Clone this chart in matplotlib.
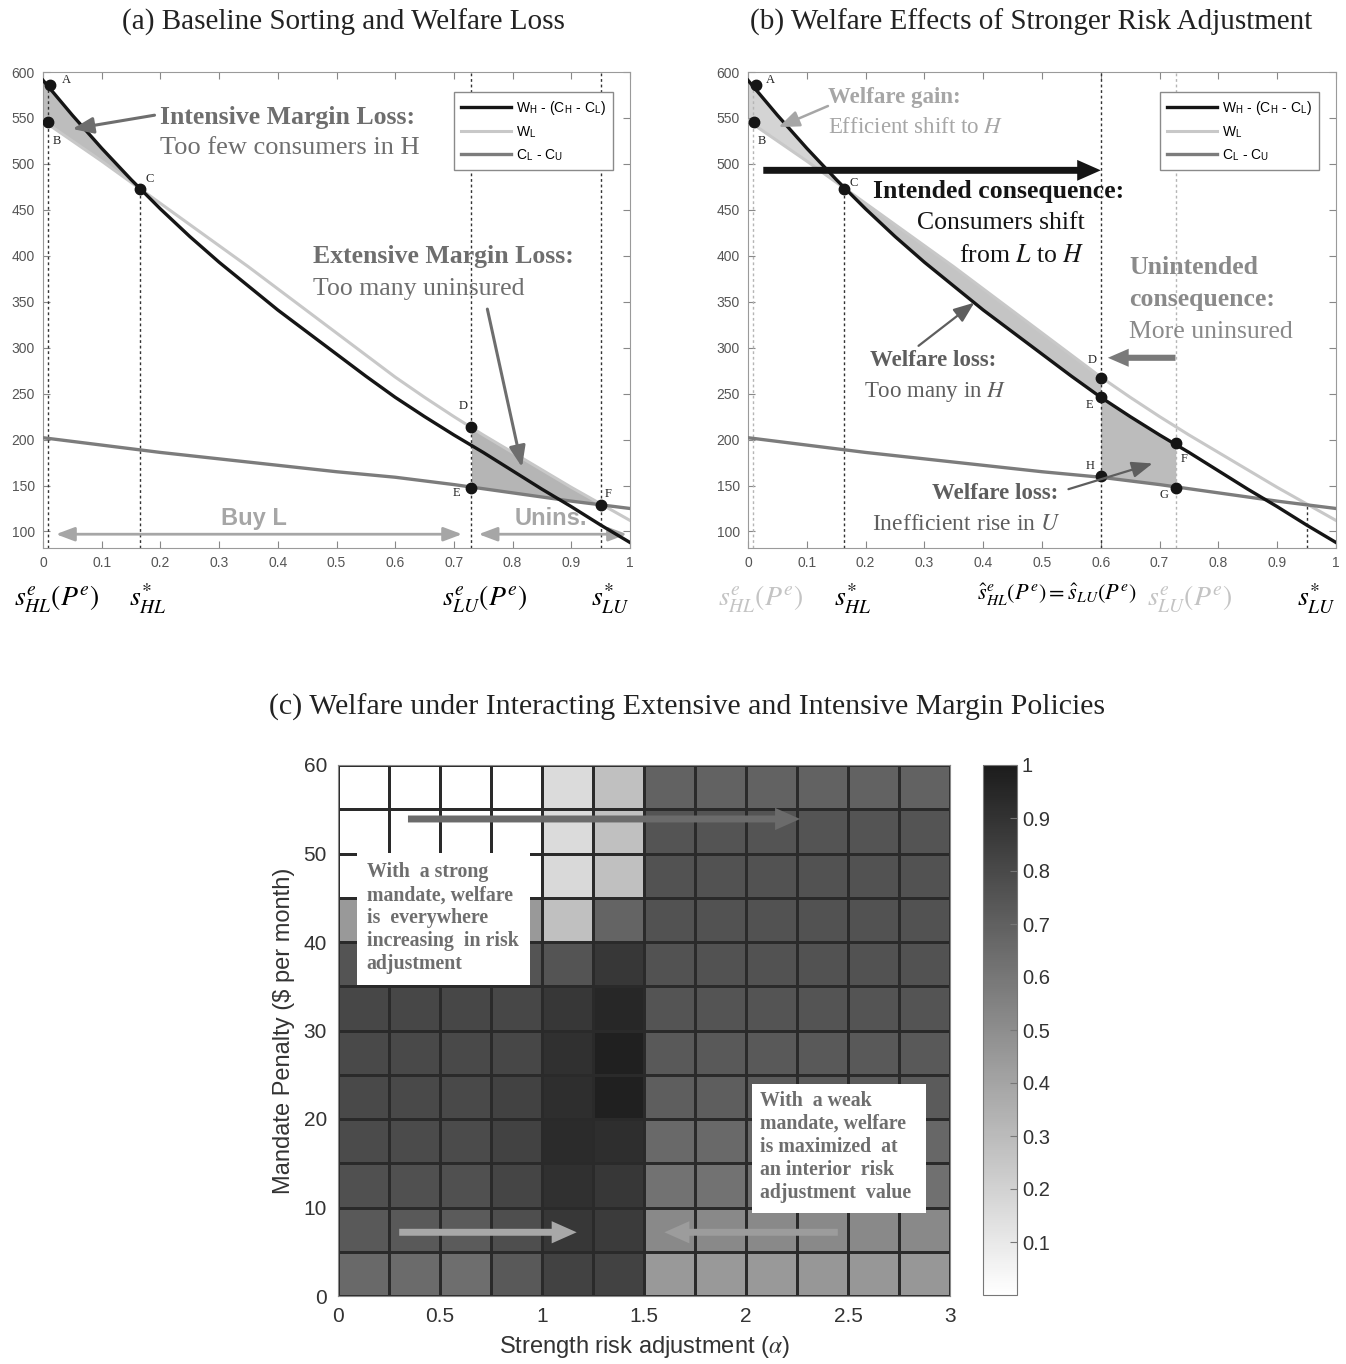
import numpy as np
import matplotlib.pyplot as plt
from matplotlib.colors import LinearSegmentedColormap
from matplotlib.patches import Rectangle

plt.rcParams['font.family'] = 'Liberation Sans'
plt.rcParams['mathtext.fontset'] = 'stix'

SERIF = 'Liberation Serif'

# ---- panels (a) and (b): curves ----
s = [0.00, 0.05, 0.10, 0.15, 0.20, 0.25, 0.30, 0.35, 0.40, 0.45, 0.50,
     0.55, 0.60, 0.65, 0.70, 0.75, 0.80, 0.85, 0.90, 0.95, 1.00]
wh_net = [591, 553, 517, 483, 451, 421, 393, 367, 341, 317, 293,
          269, 246, 225, 205, 186, 166, 146, 127, 107, 88]          # W_H - (C_H - C_L)
w_l = [547, 525, 503, 480, 457, 434, 411, 388, 364, 340, 316,
       292, 268, 246, 225, 205, 186, 167, 148, 130, 112]            # W_L
c_lu = [202, 198, 194, 190, 186, 182.5, 179, 175.5, 172, 168.5, 165,
        162, 159, 155, 151, 146.5, 142, 137.5, 133, 129, 125]       # C_L - C_U

pts_a = {'A': (0.012, 586), 'B': (0.008, 546), 'C': (0.165, 473),
         'D': (0.729, 214), 'E': (0.729, 147), 'F': (0.951, 129)}
pts_b = {'A': (0.014, 586), 'B': (0.010, 546), 'C': (0.163, 473),
         'D': (0.600, 267), 'E': (0.600, 246), 'H': (0.600, 160),
         'F': (0.728, 196), 'G': (0.728, 147)}
lbl_off_a = {'A': (16, 5), 'B': (9, -19), 'C': (10, 10), 'D': (-8, 21), 'E': (-14, -5), 'F': (7, 11)}
lbl_off_b = {'A': (14, 5), 'B': (8, -19), 'C': (10, 6), 'D': (-9, 18), 'E': (-11, -8),
             'H': (-11, 10), 'F': (8, -16), 'G': (-12, -7)}

# ---- panel (c): welfare grid (rows: penalty 0-5 ... 55-60, cols: alpha 0-0.25 ... 2.75-3) ----
alpha_edges = [0, 0.25, 0.5, 0.75, 1.0, 1.25, 1.5, 1.75, 2.0, 2.25, 2.5, 2.75, 3.0]
penalty_edges = [0, 5, 10, 15, 20, 25, 30, 35, 40, 45, 50, 55, 60]
welfare = [
    [0.66, 0.65, 0.64, 0.73, 0.83, 0.83, 0.45, 0.45, 0.45, 0.46, 0.46, 0.46],
    [0.73, 0.73, 0.72, 0.78, 0.88, 0.86, 0.52, 0.52, 0.52, 0.52, 0.52, 0.52],
    [0.77, 0.77, 0.77, 0.82, 0.91, 0.88, 0.62, 0.62, 0.63, 0.63, 0.63, 0.63],
    [0.79, 0.79, 0.79, 0.83, 0.93, 0.92, 0.66, 0.66, 0.67, 0.67, 0.67, 0.67],
    [0.80, 0.80, 0.80, 0.83, 0.92, 0.98, 0.71, 0.71, 0.72, 0.72, 0.72, 0.72],
    [0.80, 0.80, 0.80, 0.81, 0.91, 0.98, 0.73, 0.73, 0.73, 0.73, 0.73, 0.73],
    [0.81, 0.81, 0.81, 0.81, 0.88, 0.95, 0.75, 0.75, 0.75, 0.75, 0.75, 0.75],
    [0.75, 0.75, 0.75, 0.75, 0.75, 0.88, 0.76, 0.76, 0.76, 0.76, 0.76, 0.76],
    [0.45, 0.45, 0.45, 0.45, 0.28, 0.68, 0.76, 0.76, 0.76, 0.76, 0.76, 0.76],
    [0.00, 0.00, 0.00, 0.00, 0.17, 0.28, 0.76, 0.76, 0.76, 0.76, 0.76, 0.76],
    [0.00, 0.00, 0.00, 0.00, 0.16, 0.28, 0.75, 0.75, 0.75, 0.75, 0.75, 0.75],
    [0.00, 0.00, 0.00, 0.00, 0.16, 0.28, 0.69, 0.69, 0.69, 0.69, 0.69, 0.69],
]

BLACK = '#151515'
LIGHT = '#c8c8c8'
DARK = '#7c7c7c'

fig = plt.figure(figsize=(13.46, 13.64), dpi=100)
W, H = 1346, 1364
ax_a = fig.add_axes([43 / W, (H - 548) / H, 587 / W, 476 / H])
ax_b = fig.add_axes([748 / W, (H - 548) / H, 588 / W, 476 / H])
ax_c = fig.add_axes([338 / W, 68 / H, 612 / W, 531 / H])
cax = fig.add_axes([983 / W, 69 / H, 34 / W, 530 / H])

xf = np.linspace(0, 1, 801)
whf = np.interp(xf, s, wh_net)
wlf = np.interp(xf, s, w_l)
clf = np.interp(xf, s, c_lu)


def base_axes(ax):
    ax.set_xlim(0, 1)
    ax.set_ylim(82, 600)
    ax.set_xticks([0, 0.1, 0.2, 0.3, 0.4, 0.5, 0.6, 0.7, 0.8, 0.9, 1])
    ax.set_xticklabels(['0', '0.1', '0.2', '0.3', '0.4', '0.5', '0.6', '0.7', '0.8', '0.9', '1'])
    ax.set_yticks([100, 150, 200, 250, 300, 350, 400, 450, 500, 550, 600])
    ax.tick_params(direction='in', top=True, right=True, length=5, labelsize=10,
                   colors='#888888', labelcolor='#555555', pad=6)
    for sp in ax.spines.values():
        sp.set_color('#9a9a9a')
    l1, = ax.plot(s, wh_net, color=BLACK, lw=2.4, zorder=4)
    l2, = ax.plot(s, w_l, color=LIGHT, lw=2.2, zorder=3)
    l3, = ax.plot(s, c_lu, color=DARK, lw=2.4, zorder=3)
    ax.legend([l1, l2, l3],
              [r'W$_\mathregular{H}$ - (C$_\mathregular{H}$ - C$_\mathregular{L}$)',
               r'W$_\mathregular{L}$', r'C$_\mathregular{L}$ - C$_\mathregular{U}$'],
              loc='upper right', bbox_to_anchor=(0.983, 0.972), fontsize=10,
              handlelength=3.6, fancybox=False, edgecolor='#8a8a8a', framealpha=1,
              borderpad=0.5, labelspacing=0.5, handletextpad=0.4)


def dots(ax, pts, offs):
    for k, (x, y) in pts.items():
        ax.plot(x, y, 'o', color=BLACK, ms=7.5, zorder=6)
        ax.annotate(k, (x, y), xytext=offs[k], textcoords='offset pixels',
                    ha='center', va='center', fontsize=9, family=SERIF, color='#222222')


def vline(ax, x, ytop, color):
    ax.plot([x, x], [82, ytop], color=color, lw=1.0, ls=(0, (2, 2)), zorder=2)


def arrow(ax, tail, head, color, lw=2.2, hl=0.9, hw=0.35):
    ax.annotate('', xy=head, xytext=tail,
                arrowprops=dict(arrowstyle=f'-|>,head_length={hl},head_width={hw}',
                                color=color, lw=lw, mutation_scale=14, shrinkA=0, shrinkB=0),
                zorder=7)


def fat_arrow(ax, tail, head, color, ms=20, tw=0.22, hw=0.65, hl=0.75):
    ax.annotate('', xy=head, xytext=tail,
                arrowprops=dict(arrowstyle=f'simple,head_length={hl},head_width={hw},tail_width={tw}',
                                color=color, mutation_scale=ms, shrinkA=0, shrinkB=0, lw=0),
                zorder=7)


# ---------------- panel (a) ----------------
base_axes(ax_a)
ax_a.fill_between(xf, whf, wlf, where=whf >= wlf, interpolate=True, color='#bdbdbd', lw=0, zorder=1)
m = (xf >= 0.729) & (xf <= 0.951)
ax_a.fill_between(xf[m], wlf[m], clf[m], color='#b5b5b5', lw=0, zorder=1)
vline(ax_a, 0.008, 586, '#333333')
vline(ax_a, 0.165, 473, '#333333')
vline(ax_a, 0.729, 600, '#333333')
vline(ax_a, 0.951, 600, '#333333')
dots(ax_a, pts_a, lbl_off_a)

ax_a.text(0.2, 551, 'Intensive Margin Loss:', family=SERIF, weight='bold', fontsize=18.5,
          color='#6e6e6e', va='center')
ax_a.text(0.2, 517, 'Too few consumers in H', family=SERIF, fontsize=19, color='#6e6e6e', va='center')
arrow(ax_a, (0.19, 553), (0.05, 538), '#6e6e6e')
ax_a.text(0.46, 399, 'Extensive Margin Loss:', family=SERIF, weight='bold', fontsize=18.5,
          color='#6e6e6e', va='center')
ax_a.text(0.46, 364, 'Too many uninsured', family=SERIF, fontsize=18.5, color='#6e6e6e', va='center')
arrow(ax_a, (0.757, 342), (0.816, 170), '#6e6e6e')

ax_a.annotate('', xy=(0.714, 97), xytext=(0.022, 97),
              arrowprops=dict(arrowstyle='<|-|>,head_length=0.8,head_width=0.3', color='#a6a6a6',
                              lw=2, mutation_scale=14, shrinkA=0, shrinkB=0))
ax_a.annotate('', xy=(0.995, 97), xytext=(0.742, 97),
              arrowprops=dict(arrowstyle='<|-|>,head_length=0.8,head_width=0.3', color='#a6a6a6',
                              lw=2, mutation_scale=14, shrinkA=0, shrinkB=0))
ax_a.text(0.36, 114, 'Buy L', ha='center', va='center', weight='bold', fontsize=17, color='#a6a6a6')
ax_a.text(0.865, 114, 'Unins.', ha='center', va='center', weight='bold', fontsize=17, color='#a6a6a6')

tr_a = ax_a.get_xaxis_transform()
ax_a.text(0.024, -0.107, r'$s^{e}_{HL}(P^{e})$', transform=tr_a, ha='center', va='center', fontsize=20)
ax_a.text(0.178, -0.107, r'$s^{*}_{HL}$', transform=tr_a, ha='center', va='center', fontsize=20)
ax_a.text(0.753, -0.107, r'$s^{e}_{LU}(P^{e})$', transform=tr_a, ha='center', va='center', fontsize=20)
ax_a.text(0.966, -0.107, r'$s^{*}_{LU}$', transform=tr_a, ha='center', va='center', fontsize=20)

# ---------------- panel (b) ----------------
base_axes(ax_b)
ax_b.fill_between(xf, whf, wlf, where=whf >= wlf, interpolate=True, color='#d4d4d4', lw=0, zorder=1)
m = (xf <= 0.6)
ax_b.fill_between(xf[m], wlf[m], whf[m], where=wlf[m] >= whf[m], interpolate=True,
                  color='#c4c4c4', lw=0, zorder=1)
m = (xf >= 0.6) & (xf <= 0.728)
ax_b.fill_between(xf[m], whf[m], clf[m], color='#bcbcbc', lw=0, zorder=1)
vline(ax_b, 0.008, 586, '#b5b5b5')
vline(ax_b, 0.163, 473, '#333333')
vline(ax_b, 0.600, 600, '#333333')
vline(ax_b, 0.728, 600, '#b5b5b5')
vline(ax_b, 0.951, 131, '#333333')
dots(ax_b, pts_b, lbl_off_b)

ax_b.text(0.136, 572, 'Welfare gain:', family=SERIF, weight='bold', fontsize=16.5, color='#a6a6a6', va='center')
ax_b.text(0.136, 540, 'Efficient shift to $H$', family=SERIF, fontsize=16.5, color='#a6a6a6', va='center')
arrow(ax_b, (0.136, 563), (0.052, 540), '#a6a6a6', lw=1.8)

fat_arrow(ax_b, (0.026, 493), (0.600, 493), BLACK, tw=0.25, hw=0.75, hl=0.85)
ax_b.text(0.213, 470, 'Intended consequence:', family=SERIF, weight='bold', fontsize=18.5,
          color=BLACK, va='center')
ax_b.text(0.573, 436, 'Consumers shift', family=SERIF, fontsize=18.5, color=BLACK, va='center', ha='right')
ax_b.text(0.573, 400, 'from $L$ to $H$', family=SERIF, fontsize=18.5, color=BLACK, va='center', ha='right')

ax_b.text(0.648, 387, 'Unintended', family=SERIF, weight='bold', fontsize=18.5, color='#8a8a8a', va='center')
ax_b.text(0.648, 352, 'consequence:', family=SERIF, weight='bold', fontsize=18.5, color='#8a8a8a', va='center')
ax_b.text(0.648, 317, 'More uninsured', family=SERIF, fontsize=18.5, color='#8a8a8a', va='center')
fat_arrow(ax_b, (0.727, 289), (0.612, 289), '#7a7a7a')

ax_b.text(0.315, 286, 'Welfare loss:', family=SERIF, weight='bold', fontsize=16.5, color='#5e5e5e',
          va='center', ha='center')
ax_b.text(0.318, 252, 'Too many in $H$', family=SERIF, fontsize=16.5, color='#5e5e5e', va='center', ha='center')
arrow(ax_b, (0.29, 302), (0.385, 349), '#5e5e5e', lw=1.6)
ax_b.text(0.42, 141, 'Welfare loss:', family=SERIF, weight='bold', fontsize=16.5, color='#5e5e5e',
          va='center', ha='center')
ax_b.text(0.372, 108, 'Inefficient rise in $U$', family=SERIF, fontsize=17, color='#5e5e5e',
          va='center', ha='center')
arrow(ax_b, (0.545, 146), (0.688, 174), '#5e5e5e', lw=1.6)

tr_b = ax_b.get_xaxis_transform()
ax_b.text(0.021, -0.107, r'$s^{e}_{HL}(P^{e})$', transform=tr_b, ha='center', va='center',
          fontsize=20, color='#c4c4c4')
ax_b.text(0.178, -0.107, r'$s^{*}_{HL}$', transform=tr_b, ha='center', va='center', fontsize=20)
ax_b.text(0.526, -0.098, r'$\hat{s}^{e}_{HL}(P^{e}) = \hat{s}_{LU}(P^{e})$', transform=tr_b,
          ha='center', va='center', fontsize=16)
ax_b.text(0.752, -0.107, r'$s^{e}_{LU}(P^{e})$', transform=tr_b, ha='center', va='center',
          fontsize=20, color='#c4c4c4')
ax_b.text(0.966, -0.107, r'$s^{*}_{LU}$', transform=tr_b, ha='center', va='center', fontsize=20)

# ---------------- panel (c) ----------------
cmap = LinearSegmentedColormap.from_list('wgrey', ['#ffffff', '#1c1c1c'])
mesh = ax_c.pcolormesh(alpha_edges, penalty_edges, np.array(welfare), cmap=cmap, vmin=0, vmax=1,
                       edgecolors='#2a2a2a', linewidth=0.8)
ax_c.set_xlim(0, 3)
ax_c.set_ylim(0, 60)
ax_c.set_xticks([0, 0.5, 1, 1.5, 2, 2.5, 3])
ax_c.set_xticklabels(['0', '0.5', '1', '1.5', '2', '2.5', '3'])
ax_c.set_yticks([0, 10, 20, 30, 40, 50, 60])
ax_c.tick_params(direction='in', length=0, labelsize=15, labelcolor='#333333', pad=8)
for sp in ax_c.spines.values():
    sp.set_color('#8a8a8a')
ax_c.set_xlabel(r'Strength risk adjustment ($\alpha$)', fontsize=17, color='#333333', labelpad=6)
ax_c.set_ylabel('Mandate Penalty (\\$ per month)', fontsize=17, color='#333333', labelpad=6)

ax_c.add_patch(Rectangle((0.093, 35.1), 0.847, 14.95, facecolor='white', edgecolor='none', zorder=5))
ax_c.text(0.14, 49.0, 'With  a strong\nmandate, welfare\nis  everywhere\nincreasing  in risk\nadjustment',
          family=SERIF, weight='bold', fontsize=14.3, color='#6e6e6e', va='top', ha='left',
          linespacing=1.2, zorder=6)
ax_c.add_patch(Rectangle((2.03, 9.4), 0.85, 14.55, facecolor='white', edgecolor='none', zorder=5))
ax_c.text(2.07, 23.2, 'With  a weak\nmandate, welfare\nis maximized  at\nan interior  risk\nadjustment  value',
          family=SERIF, weight='bold', fontsize=14.3, color='#6e6e6e', va='top', ha='left',
          linespacing=1.2, zorder=6)

fat_arrow(ax_c, (0.343, 53.9), (2.265, 53.9), '#6b6b6b', tw=0.25, hw=0.8, hl=0.9)
fat_arrow(ax_c, (0.30, 7.2), (1.17, 7.2), '#a8a8a8', tw=0.25, hw=0.8, hl=0.9)
fat_arrow(ax_c, (2.45, 7.2), (1.60, 7.2), '#9c9c9c', tw=0.25, hw=0.8, hl=0.9)

cb = fig.colorbar(mesh, cax=cax, ticks=[0.1, 0.2, 0.3, 0.4, 0.5, 0.6, 0.7, 0.8, 0.9, 1])
cb.ax.set_yticklabels(['0.1', '0.2', '0.3', '0.4', '0.5', '0.6', '0.7', '0.8', '0.9', '1'])
cb.ax.tick_params(labelsize=14.5, labelcolor='#333333', color='#777777', direction='in', length=5)
cb.outline.set_edgecolor('#777777')

# ---------------- titles ----------------
fig.text(343 / W, 1 - 22 / H, '(a) Baseline Sorting and Welfare Loss', family=SERIF, fontsize=21,
         ha='center', va='center', color='#222222')
fig.text(1031 / W, 1 - 22 / H, '(b) Welfare Effects of Stronger Risk Adjustment', family=SERIF,
         fontsize=21, ha='center', va='center', color='#222222')
fig.text(687 / W, 1 - 707 / H, '(c) Welfare under Interacting Extensive and Intensive Margin Policies',
         family=SERIF, fontsize=21.5, ha='center', va='center', color='#222222')

fig.savefig('out.png', dpi=100)
